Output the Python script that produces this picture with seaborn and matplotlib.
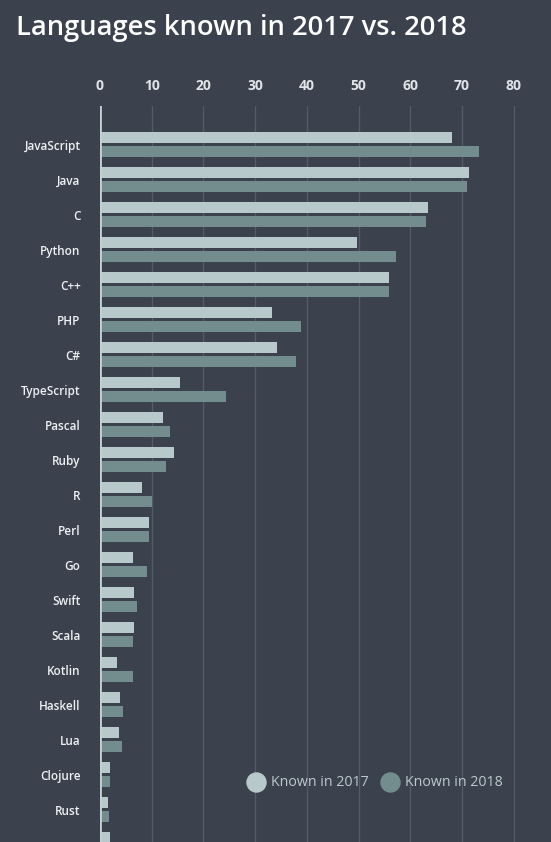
import numpy as np
import pandas as pd
import matplotlib
matplotlib.use("Agg")
import matplotlib.pyplot as plt
from matplotlib.lines import Line2D
import seaborn as sns

# values
languages = ["JavaScript", "Java", "C", "Python", "C++", "PHP", "C#", "TypeScript",
             "Pascal", "Ruby", "R", "Perl", "Go", "Swift", "Scala", "Kotlin",
             "Haskell", "Lua", "Clojure", "Rust", "Erlang"]
known_2017 = [68.1, 71.4, 63.4, 49.7, 55.9, 33.3, 34.2, 15.5, 12.2, 14.3, 8.1,
              9.5, 6.4, 6.6, 6.6, 3.3, 3.9, 3.7, 1.9, 1.5, 1.9]
known_2018 = [73.3, 71.0, 63.1, 57.3, 55.9, 38.9, 37.9, 24.4, 13.5, 12.8, 10.1,
              9.5, 9.1, 7.2, 6.4, 6.4, 4.4, 4.3, 1.9, 1.7, 1.9]
series = ["Known in 2017", "Known in 2018"]
x_ticks = [0, 10, 20, 30, 40, 50, 60, 70, 80]

bg = "#3b424d"
c17 = "#b8c9cc"
c18 = "#738d8f"

df = pd.DataFrame({
    "language": languages * 2,
    "value": known_2017 + known_2018,
    "year": [series[0]] * len(languages) + [series[1]] * len(languages),
})

sns.set_theme(style="dark")
plt.rcParams["font.family"] = ["Open Sans", "DejaVu Sans"]

W, H = 551, 842
fig = plt.figure(figsize=(W / 100, H / 100), dpi=100, facecolor=bg)
ax = fig.add_axes([100 / W, 0, 1 - 100 / W, 1 - 106 / H])
ax.set_facecolor(bg)

sns.barplot(data=df, y="language", x="value", hue="year", orient="h",
            palette=[c17, c18], width=0.8, gap=0.2, ax=ax, legend=False,
            saturation=1, linewidth=0)

for s in ax.spines.values():
    s.set_visible(False)

ax.grid(axis="x", color="#525b67", lw=1)
ax.grid(axis="y", visible=False)
ax.set_axisbelow(True)
ax.axvline(0, color="#c5d0d3", lw=2, zorder=5)

ax.xaxis.tick_top()
ax.set_xticks(x_ticks)
ax.set_xticklabels([str(t) for t in x_ticks], fontsize=10, fontweight="bold",
                   color="#dfe5e8")
ax.tick_params(axis="x", length=0, pad=9.5)
ax.set_xlabel("")
ax.set_ylabel("")

ax.set_yticks(range(len(languages)))
ax.set_yticklabels(languages, fontsize=8.5, fontweight=600, color="#eef1f3")
ax.set_yticks(np.arange(-0.5, len(languages), 1), minor=True)
ax.tick_params(axis="y", which="major", length=0, pad=14)
ax.tick_params(axis="y", which="minor", length=63.6, width=1, color="#5b6872")

# limits last, so the tick setters can't widen them (chart is cut off at the bottom)
ax.set_xlim(0, 451 / 5.171)
ax.set_ylim(-0.5 + (842 - 127.3) / 35, -0.5 - (127.3 - 106) / 35)

handles = [Line2D([], [], marker="o", ls="", color=c, markersize=13.7) for c in (c17, c18)]
fig.legend(handles, series, loc="center", ncol=2, frameon=False,
           bbox_to_anchor=(375 / W, 1 - 783 / H), fontsize=10.2,
           labelcolor="#bccacf", handlelength=1.2, handletextpad=0.49,
           columnspacing=0.86, borderpad=0)

fig.text(15.8 / W, 1 - 35 / H, "Languages known in 2017 vs. 2018", fontsize=19.7,
         fontweight=600, color="#ffffff", va="baseline", ha="left")

fig.savefig("out.png", dpi=100, facecolor=bg)
